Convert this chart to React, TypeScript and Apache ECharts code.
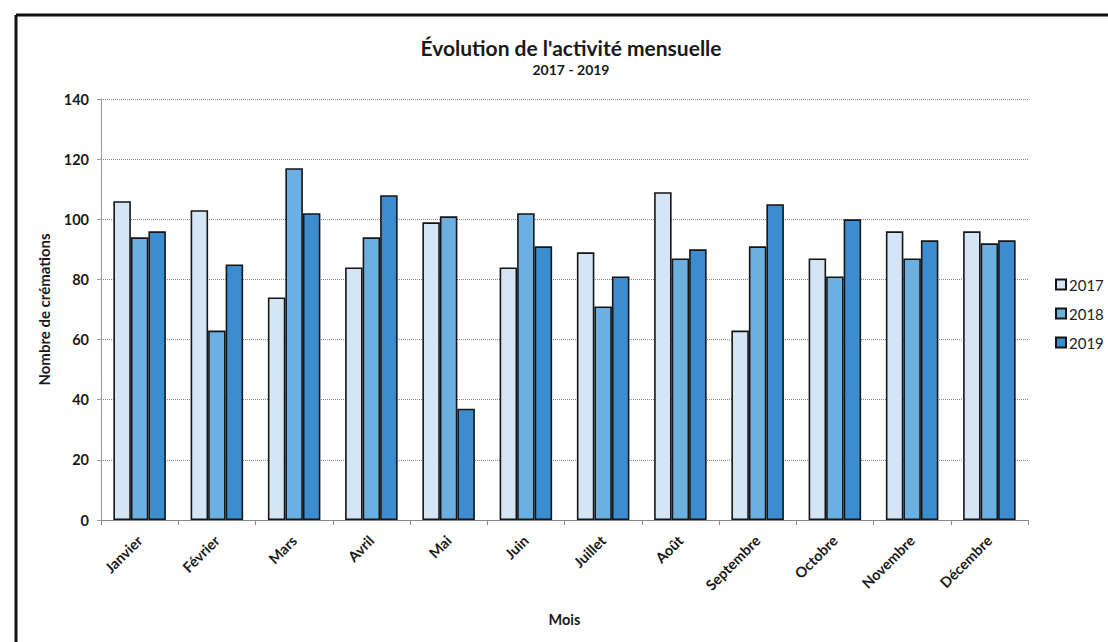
import React, { useEffect, useRef } from "react";
import * as echarts from "echarts";

const months = ["Janvier", "Février", "Mars", "Avril", "Mai", "Juin", "Juillet", "Août", "Septembre", "Octobre", "Novembre", "Décembre"];
const years = ["2017", "2018", "2019"];
const values2017 = [106, 103, 74, 84, 99, 84, 89, 109, 63, 87, 96, 96];
const values2018 = [94, 63, 117, 94, 101, 102, 71, 87, 91, 81, 87, 92];
const values2019 = [96, 85, 102, 108, 37, 91, 81, 90, 105, 100, 93, 93];
const seriesValues = [values2017, values2018, values2019];
const colors = ["#d4e5f6", "#6cb0e2", "#3b8dd0"];

const FONT = "Lato, 'Open Sans', sans-serif";

export default function App() {
  const ref = useRef<HTMLDivElement>(null);
  useEffect(() => {
    if (!ref.current) return;
    const chart = echarts.init(ref.current, undefined, { renderer: "svg" });
    chart.setOption({
      animation: false,
      backgroundColor: "#ffffff",
      title: {
        text: "Évolution de l'activité mensuelle",
        subtext: "2017 - 2019",
        left: 566,
        textAlign: "center",
        top: 32,
        itemGap: 4,
        textStyle: { fontFamily: FONT, fontWeight: "bold", fontSize: 21, color: "#1a1a1a" },
        subtextStyle: { fontFamily: FONT, fontWeight: "bold", fontSize: 14, color: "#1a1a1a" },
      },
      legend: {
        orient: "vertical",
        left: 1050,
        top: 272,
        itemWidth: 10,
        itemHeight: 10,
        itemGap: 14,
        icon: "rect",
        data: years,
        textStyle: { fontFamily: FONT, fontSize: 15, color: "#222", padding: [0, 0, 0, -2] },
      },
      grid: { left: 101, right: 80, top: 99, bottom: 122, containLabel: false },
      xAxis: {
        type: "category",
        data: months,
        name: "Mois",
        nameLocation: "middle",
        nameGap: 92,
        nameTextStyle: { fontFamily: FONT, fontWeight: "bold", fontSize: 14.5, color: "#1a1a1a" },
        axisLine: { show: true, lineStyle: { color: "#888", width: 1 } },
        axisTick: { show: true, length: 5, alignWithLabel: false, lineStyle: { color: "#888" } },
        axisLabel: {
          rotate: 45,
          margin: 18,
          fontFamily: FONT,
          fontWeight: "bold",
          fontSize: 14.5,
          color: "#1a1a1a",
          interval: 0,
        },
      },
      yAxis: {
        type: "value",
        min: 0,
        max: 140,
        interval: 20,
        name: "Nombre de crémations",
        nameLocation: "middle",
        nameGap: 50,
        nameTextStyle: { fontFamily: FONT, fontWeight: "bold", fontSize: 15, color: "#1a1a1a" },
        axisLine: { show: true, lineStyle: { color: "#999", width: 1 } },
        axisTick: { show: true, length: 4, lineStyle: { color: "#999" } },
        axisLabel: { fontFamily: FONT, fontWeight: "bold", fontSize: 14.5, color: "#1a1a1a", margin: 12 },
        splitLine: { show: true, lineStyle: { color: "#8a8a8a", type: "dotted", width: 1 } },
      },
      series: years.map((y, i) => ({
        name: y,
        type: "bar",
        data: seriesValues[i],
        barGap: "0%",
        barCategoryGap: "32%",
        itemStyle: { color: colors[i], borderColor: "#151515", borderWidth: 1.6 },
      })),
      graphic: [
        { type: "line", shape: { x1: 16, y1: 15, x2: 1108, y2: 15 }, style: { stroke: "#111", lineWidth: 3 } },
        { type: "line", shape: { x1: 16, y1: 15, x2: 16, y2: 642 }, style: { stroke: "#111", lineWidth: 3 } },
      ],
    });
    return () => chart.dispose();
  }, []);
  return <div ref={ref} style={{ position: "fixed", left: 0, top: 0, width: 1108, height: 642 }} />;
}
